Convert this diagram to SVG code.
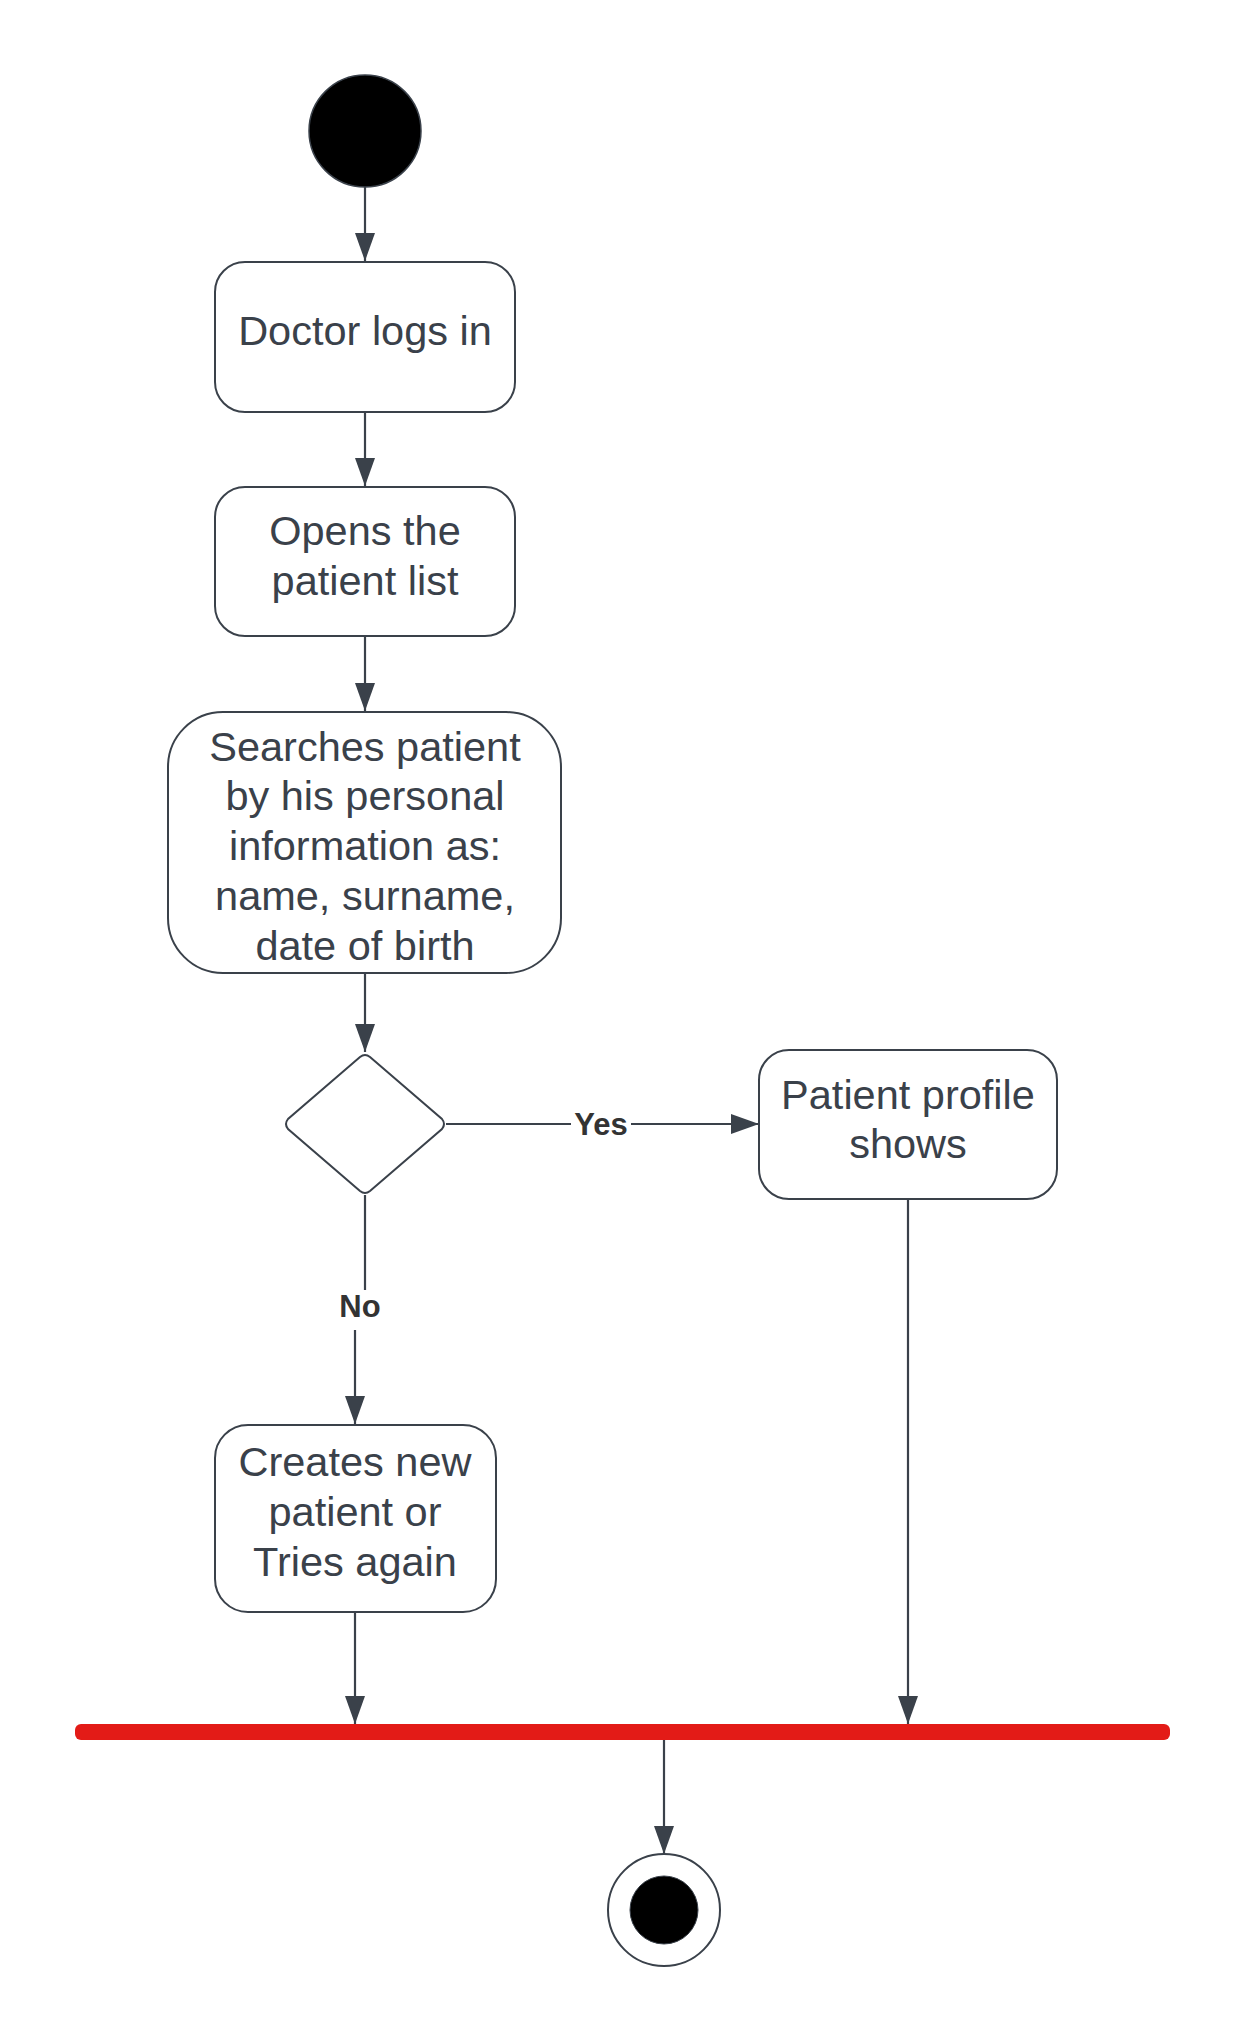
<svg xmlns="http://www.w3.org/2000/svg" width="1247" height="2042" viewBox="0 0 1247 2042">
<style>
.node{fill:#ffffff;stroke:#3a414a;stroke-width:2}
.t{font-family:"Liberation Sans",Arial,sans-serif;font-size:41.5px;fill:#3a414a;text-anchor:middle}
.lbl{font-family:"Liberation Sans",Arial,sans-serif;font-size:31px;font-weight:bold;fill:#333333;text-anchor:middle}
.c{fill:none;stroke:#3a414a;stroke-width:2.2}
</style>
<defs>
<marker id="arr" markerWidth="28" markerHeight="20" refX="28" refY="10" orient="auto" markerUnits="userSpaceOnUse">
<path d="M0,0 L28,10 L0,20 Z" fill="#3a414a"/>
</marker>
</defs>
<rect width="1247" height="2042" fill="#ffffff"/>
<g id="connectors">
<line class="c" x1="365" y1="187" x2="365" y2="261" marker-end="url(#arr)"/>
<line class="c" x1="365" y1="412" x2="365" y2="486" marker-end="url(#arr)"/>
<line class="c" x1="365" y1="636" x2="365" y2="711" marker-end="url(#arr)"/>
<line class="c" x1="365" y1="972" x2="365" y2="1052" marker-end="url(#arr)"/>
<line class="c" x1="446" y1="1124" x2="571" y2="1124"/>
<line class="c" x1="631" y1="1124" x2="759" y2="1124" marker-end="url(#arr)"/>
<line class="c" x1="365" y1="1195" x2="365" y2="1290"/>
<line class="c" x1="355" y1="1330" x2="355" y2="1424" marker-end="url(#arr)"/>
<line class="c" x1="908" y1="1199" x2="908" y2="1724" marker-end="url(#arr)"/>
<line class="c" x1="355" y1="1612" x2="355" y2="1724" marker-end="url(#arr)"/>
<line class="c" x1="664" y1="1740" x2="664" y2="1854" marker-end="url(#arr)"/>
<text class="lbl" x="601" y="1135">Yes</text>
<text class="lbl" x="360" y="1317">No</text>
</g>
<g id="start">
<circle cx="365" cy="131" r="56" fill="#000000" stroke="#3a414a" stroke-width="1.5"/>
</g>
<g id="login">
<rect class="node" x="215" y="262" width="300" height="150" rx="30"/>
<text class="t" x="365" y="345">Doctor logs in</text>
</g>
<g id="opens">
<rect class="node" x="215" y="487" width="300" height="149" rx="30"/>
<text class="t" x="365" y="545">Opens the</text>
<text class="t" x="365" y="595">patient list</text>
</g>
<g id="search">
<rect class="node" x="168" y="712" width="393" height="261" rx="55"/>
<text class="t" x="365" y="761">Searches patient</text>
<text class="t" x="365" y="810">by his personal</text>
<text class="t" x="365" y="860">information as:</text>
<text class="t" x="365" y="910">name, surname,</text>
<text class="t" x="365" y="960">date of birth</text>
</g>
<g id="decision">
<path class="node" d="M360,1057 Q365,1053 370,1057 L442,1119 Q446,1124 442,1129 L370,1191 Q365,1195 360,1191 L288,1129 Q284,1124 288,1119 Z"/>
</g>
<g id="profile">
<rect class="node" x="759" y="1050" width="298" height="149" rx="30"/>
<text class="t" x="908" y="1109">Patient profile</text>
<text class="t" x="908" y="1158">shows</text>
</g>
<g id="create">
<rect class="node" x="215" y="1425" width="281" height="187" rx="33"/>
<text class="t" x="355" y="1476">Creates new</text>
<text class="t" x="355" y="1526">patient or</text>
<text class="t" x="355" y="1576">Tries again</text>
</g>
<g id="join">
<rect x="75" y="1724" width="1095" height="16" rx="6" fill="#e31b17"/>
</g>
<g id="end">
<circle cx="664" cy="1910" r="56" fill="#ffffff" stroke="#3a414a" stroke-width="2"/>
<circle cx="664" cy="1910" r="34" fill="#000000" stroke="#3a414a" stroke-width="1"/>
</g>
</svg>
